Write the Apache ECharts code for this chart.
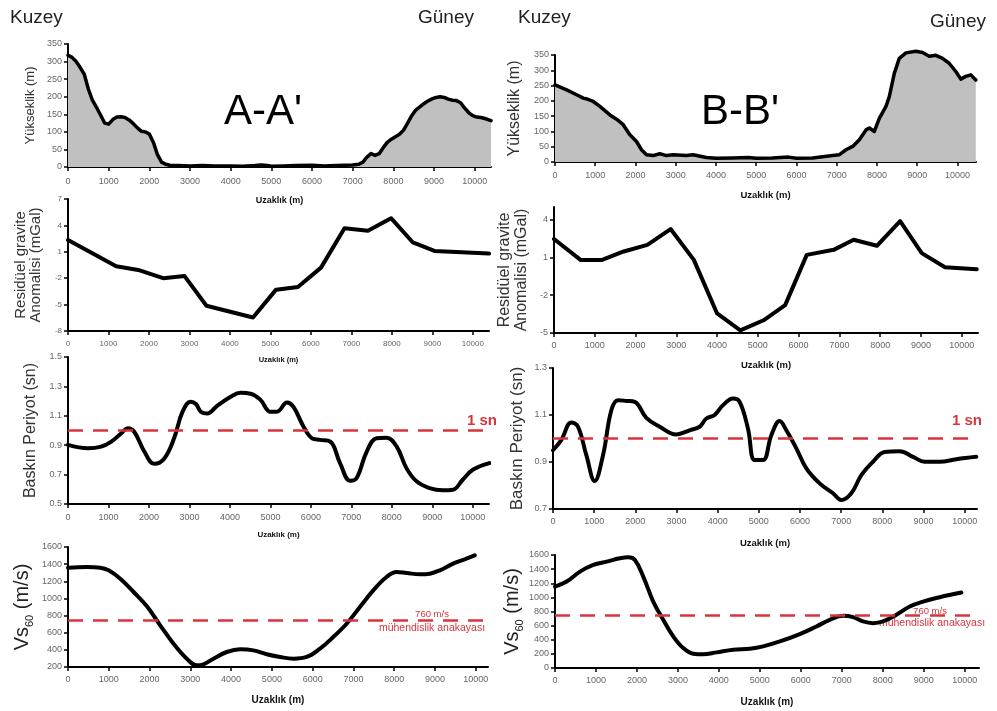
<!DOCTYPE html>
<html><head><meta charset="utf-8">
<script src="https://cdn.jsdelivr.net/npm/echarts@6/dist/echarts.min.js"></script>
<style>html,body{margin:0;padding:0;background:#fff}#c{width:997px;height:711px}</style>
</head><body><div id="c"></div>
<script>
// ---------- DATA ----------
const xTickValues = [0,1000,2000,3000,4000,5000,6000,7000,8000,9000,10000];

const elevADist = [0,100,200,300,400,500,600,700,800,900,1000,1100,1200,1300,1400,1500,1600,1700,1800,1900,2000,2100,2200,2300,2400,2500,2700,3000,3300,3600,4000,4300,4600,4750,4900,5000,5300,5600,6000,6300,6600,7000,7150,7250,7350,7450,7550,7650,7750,7850,7950,8050,8150,8250,8350,8450,8550,8650,8750,8850,8950,9050,9150,9250,9350,9450,9550,9650,9750,9850,9950,10050,10150,10250,10400];
const elevAVal  = [318,312,300,283,264,222,190,170,148,125,122,135,142,143,141,134,124,112,102,100,94,70,35,14,8,5,4,3,4,3,3,2,4,6,4,2,3,4,5,3,4,6,8,14,28,38,33,38,55,70,79,86,93,105,125,146,162,171,180,188,194,198,200,198,193,190,189,183,168,155,146,142,141,138,132];

const elevBDist = [0,289,537,702,800,950,1116,1364,1529,1694,1860,2025,2149,2273,2438,2603,2769,2934,3264,3430,3760,4000,4421,4800,5000,5400,5800,6000,6400,6900,7066,7231,7397,7562,7727,7810,7934,8058,8223,8306,8430,8554,8719,8967,9132,9298,9463,9628,9793,9959,10083,10207,10331,10455];
const elevBVal  = [252,236,220,209,206,198,182,154,140,122,89,67,40,24,21,27,21,24,21,24,15,12,13,15,12,13,16,12,13,21,24,40,51,73,105,111,100,143,182,214,290,339,357,362,358,346,349,339,323,296,271,280,285,268];

const gravADist = [0,1190,1770,2350,2880,3420,4570,5140,5680,6250,6830,7410,7980,8520,9050,10400];
const gravAVal  = [2.33,-0.65,-1.1,-2.0,-1.76,-5.13,-6.47,-3.3,-3.0,-0.8,3.67,3.4,4.82,2.06,1.1,0.8];

const gravBDist = [0,650,1180,1710,2290,2860,3430,4000,4570,5140,5670,6200,6860,7350,7920,8490,9020,9590,10370];
const gravBVal  = [2.46,0.8,0.8,1.47,2.0,3.25,0.8,-3.45,-4.79,-3.99,-2.79,1.2,1.6,2.4,1.92,3.87,1.34,0.22,0.06];

const perADist = [0,490,820,1070,1310,1475,1640,1885,2130,2380,2620,2830,3030,3160,3280,3440,3690,4020,4260,4510,4750,5000,5160,5410,5570,5820,6030,6230,6480,6720,6970,7130,7380,7620,7870,8120,8360,8610,8930,9260,9510,9750,10000,10410];
const perAVal  = [0.902,0.879,0.89,0.924,0.98,1.015,0.99,0.857,0.773,0.81,0.947,1.128,1.195,1.18,1.128,1.116,1.17,1.23,1.256,1.25,1.21,1.128,1.128,1.19,1.16,1.026,0.947,0.936,0.924,0.778,0.658,0.676,0.857,0.947,0.951,0.89,0.744,0.654,0.608,0.593,0.597,0.665,0.733,0.778];

const perBDist = [0,200,445,607,810,1012,1215,1417,1579,1781,1984,2267,2591,2996,3320,3563,3725,3927,4130,4372,4534,4737,4899,5101,5304,5506,5668,5911,6154,6478,6802,7004,7247,7490,7773,8057,8421,8745,9028,9393,9798,10283];
const perBVal  = [0.95,0.993,1.068,1.05,0.929,0.819,0.929,1.12,1.163,1.16,1.156,1.088,1.05,1.017,1.035,1.05,1.085,1.1,1.142,1.17,1.156,1.042,0.908,0.908,1.014,1.074,1.035,0.958,0.873,0.809,0.767,0.738,0.767,0.844,0.901,0.943,0.946,0.922,0.901,0.901,0.912,0.922];

const vsADist = [0,465,792,996,1282,1608,1935,2261,2588,2914,3159,3322,3567,3894,4220,4547,4873,5200,5527,5853,6180,6506,6833,7159,7486,7812,8057,8302,8629,8873,9118,9445,9771,9975];
const vsAVal  = [1359,1367,1359,1328,1230,1075,908,686,472,297,219,231,297,375,406,394,348,317,297,317,414,550,705,900,1094,1250,1308,1297,1281,1289,1328,1406,1464,1503];

const vsBDist = [0,285,610,935,1260,1585,1789,1951,2154,2398,2642,2886,3130,3374,3618,3943,4350,4756,5081,5488,5976,6382,6707,7033,7276,7520,7764,8008,8333,8659,8984,9390,9919];
const vsBVal  = [1153,1224,1365,1459,1506,1553,1567,1529,1294,941,682,447,282,202,193,221,259,273,306,376,480,588,682,739,720,659,635,659,753,871,941,1002,1068];

const periodRef = 1.0;
const vsRef = 750;

// ---------- BUILD ----------
const zip = (a,b) => a.map((v,i)=>[v,b[i]]);
const range = (a,b,s) => { const r=[]; for(let v=a; v<=b+1e-9; v+=s) r.push(+v.toFixed(3)); return r; };
const plain = v => String(+(+v).toFixed(3));

const panels = [
  {g:{left:68,top:44,width:423,height:123}, xMax:10400, yMin:0,yMax:350, yT:range(0,350,50), data:zip(elevADist,elevAVal), type:'elev',
   yName:'Yükseklik (m)', yNameSize:13, yNameGap:31, xNameGap:29, xNameSize:9, xLblMargin:10},
  {g:{left:68,top:199,width:421,height:132}, xMax:10400, yMin:-8,yMax:7, yT:[-8,-5,-2,1,4,7], data:zip(gravADist,gravAVal), type:'grav',
   yName:'Residüel gravite\nAnomalisi (mGal)', yNameSize:15, yNameGap:24, xNameGap:25, xNameSize:7.5, xLblMargin:9, lblSize:8},
  {g:{left:68,top:357,width:421,height:147}, xMax:10400, yMin:0.5,yMax:1.5, yT:[0.5,0.7,0.9,1.1,1.3,1.5], data:zip(perADist,perAVal), type:'per',
   yName:'Baskın Periyot (sn)', yNameSize:16, yNameGap:29, xNameGap:27, xNameSize:8, xLblMargin:9},
  {g:{left:68,top:547,width:420,height:120}, xMax:10300, yMin:200,yMax:1600, yT:range(200,1600,200), data:zip(vsADist,vsAVal), type:'vs',
   yName:'vs', yNameSize:20, yNameGap:36, xNameGap:28, xNameSize:10, xLblMargin:8},
  {g:{left:555,top:55,width:421,height:107}, xMax:10460, yMin:0,yMax:350, yT:range(0,350,50), data:zip(elevBDist,elevBVal), type:'elev',
   yName:'Yükseklik (m)', yNameSize:16, yNameGap:32, xNameGap:28, xNameSize:9.5, xLblMargin:9},
  {g:{left:554,top:207,width:424,height:126}, xMax:10400, yMin:-5,yMax:5, yT:[-5,-2,1,4], data:zip(gravBDist,gravBVal), type:'grav',
   yName:'Residüel gravite\nAnomalisi (mGal)', yNameSize:16, yNameGap:24, xNameGap:27, xNameSize:9.5, xLblMargin:8},
  {g:{left:553,top:368,width:424,height:141}, xMax:10300, yMin:0.7,yMax:1.3, yT:[0.7,0.9,1.1,1.3], data:zip(perBDist,perBVal), type:'per',
   yName:'Baskın Periyot (sn)', yNameSize:17, yNameGap:27, xNameGap:29, xNameSize:9.5, xLblMargin:8},
  {g:{left:555,top:555,width:424,height:113}, xMax:10350, yMin:0,yMax:1600, yT:range(0,1600,200), data:zip(vsBDist,vsBVal), type:'vs',
   yName:'vs', yNameSize:20, yNameGap:32, xNameGap:29, xNameSize:10, xLblMargin:8}
];

const grid=[], xAxis=[], yAxis=[], series=[];
const RED='#d9343c';
panels.forEach((p,i)=>{
  grid.push(Object.assign({containLabel:false, outerBoundsMode:'none'}, p.g));
  const lbl = p.lblSize || 9;
  xAxis.push({type:'value', gridIndex:i, min:0, max:p.xMax,
    axisLine:{show:true,onZero:false,lineStyle:{color:'#000',width:2}},
    axisTick:{show:true,length:4,inside:false,lineStyle:{color:'#000',width:1.5},customValues:xTickValues},
    axisLabel:{customValues:xTickValues,formatter:plain,fontSize:lbl,color:'#666',margin:p.xLblMargin,fontFamily:'Liberation Sans'},
    splitLine:{show:false},
    name:'Uzaklık (m)', nameLocation:'middle', nameGap:p.xNameGap,
    nameTextStyle:{fontWeight:'bold',fontSize:p.xNameSize,color:'#111',fontFamily:'Liberation Sans'}});
  let yName = p.yName, rich = undefined;
  if (p.type==='vs') {
    yName = '{a|Vs}{b|60}{a| (m/s)}';
    rich = {a:{fontSize:p.yNameSize,color:'#222',fontFamily:'Liberation Sans',lineHeight:24,verticalAlign:'bottom'},
            b:{fontSize:11,color:'#222',fontFamily:'Liberation Sans',lineHeight:14,verticalAlign:'bottom',padding:[0,0,-3,0]}};
  }
  yAxis.push({type:'value', gridIndex:i, min:p.yMin, max:p.yMax,
    axisLine:{show:true,onZero:false,lineStyle:{color:'#000',width:2}},
    axisTick:{show:true,length:4,lineStyle:{color:'#000',width:1.5},customValues:p.yT},
    axisLabel:{customValues:p.yT,formatter:plain,fontSize:lbl,color:'#666',margin:6,fontFamily:'Liberation Sans'},
    splitLine:{show:false},
    name:yName, nameLocation:'middle', nameGap:p.yNameGap, nameRotate:90,
    nameTextStyle:{fontSize:p.yNameSize,color:'#333',fontFamily:'Liberation Sans',lineHeight:p.yNameSize*1.05,rich:rich}});
  const s = {type:'line', xAxisIndex:i, yAxisIndex:i, data:p.data, showSymbol:false, symbol:'none',
    lineStyle:{color:'#000',width:p.type==='elev'?3.5:4,join:'round',cap:'round'}, animation:false, z:3};
  if (p.type==='elev') { s.areaStyle={color:'#c0c0c0',opacity:1}; s.clip=false; }
  if (p.type==='per' || p.type==='vs') s.smooth=0.4;
  if (p.type==='per' || p.type==='vs') {
    s.markLine = {silent:true, symbol:'none', animation:false,
      lineStyle:{color:RED,type:[15,10],width:2.5,opacity:1},
      label:{show:false},
      data:[{yAxis: p.type==='per'? periodRef : vsRef}]};
  }
  series.push(s);
});

const txt = (x,y,text,size,opts) => Object.assign({type:'text', x:x, y:y, silent:true,
  style:Object.assign({text:text, fontSize:size, fontFamily:'Liberation Sans', fill:'#222', verticalAlign:'middle', align:'left'}, opts||{})});

const graphic = [
  txt(10,18,'Kuzey',19),
  txt(418,18,'Güney',19),
  txt(518,18,'Kuzey',19),
  txt(930,22,'Güney',19),
  txt(263,112,"A-A'",42,{align:'center',fill:'#000'}),
  txt(740,112,"B-B'",42,{align:'center',fill:'#000'}),
  txt(497,421,'1 sn',15,{align:'right',fill:RED,fontWeight:'bold'}),
  txt(982,421,'1 sn',15,{align:'right',fill:RED,fontWeight:'bold'}),
  txt(432,614,'760 m/s',9.5,{align:'center',fill:RED}),
  txt(432,628,'mühendislik anakayası',10.5,{align:'center',fill:RED}),
  txt(930,611,'760 m/s',9.5,{align:'center',fill:RED}),
  txt(932,623,'mühendislik anakayası',10.5,{align:'center',fill:RED})
];

const chart = echarts.init(document.getElementById('c'), null, {renderer:'canvas'});
chart.setOption({backgroundColor:'#fff', animation:false, grid, xAxis, yAxis, series, graphic});
</script></body></html>
